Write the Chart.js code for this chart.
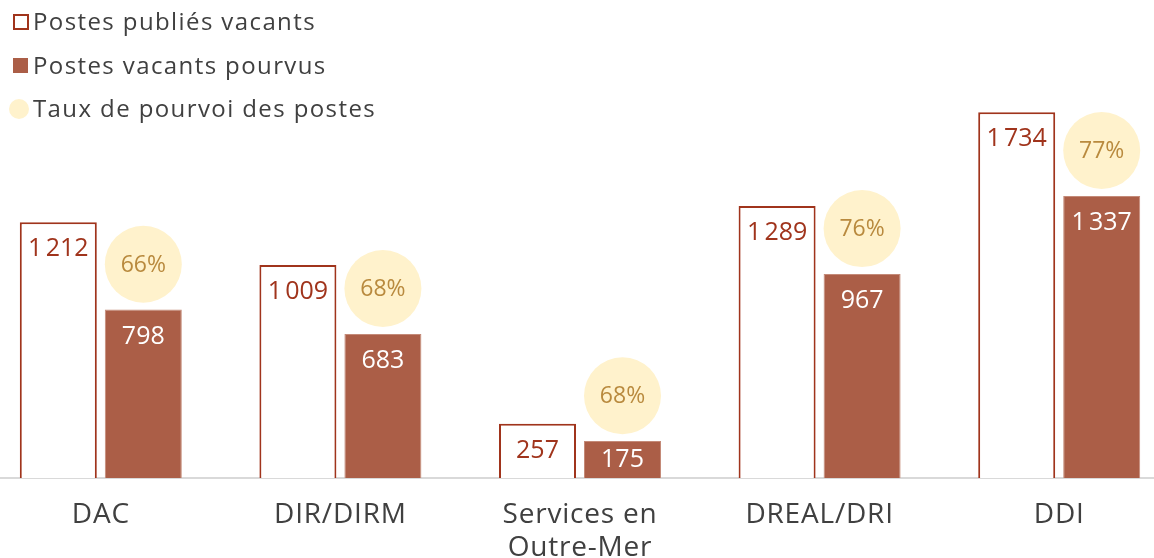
<!DOCTYPE html>
<html lang="fr">
<head>
<meta charset="utf-8">
<title>Postes vacants</title>
<script src="https://cdn.jsdelivr.net/npm/chart.js@4"></script>
<style>
  html, body { margin: 0; padding: 0; background: #fff; overflow: hidden; }
  body { width: 1154px; height: 558px; position: relative; font-family: "Open Sans", sans-serif; color: #404040; }
  #wrap { position: absolute; left: -19px; top: 0; width: 1198px; height: 558px; }
  .leg { position: absolute; left: 33px; font-size: 24px; line-height: 1; letter-spacing: 1.4px; white-space: nowrap; }
  .mk { position: absolute; box-sizing: border-box; }
</style>
</head>
<body>
<div id="wrap"><canvas id="chart"></canvas></div>

<div class="mk" style="left:13px;top:14px;width:16px;height:16px;border:2px solid #A0341C;"></div>
<div class="leg" style="top:9px;">Postes publiés vacants</div>
<div class="mk" style="left:13px;top:58px;width:15px;height:15px;background:#AB5E47;"></div>
<div class="leg" style="top:53px;">Postes vacants pourvus</div>
<div class="mk" style="left:9px;top:99px;width:20px;height:20px;border-radius:50%;background:#FFF2CC;"></div>
<div class="leg" style="top:96px;">Taux de pourvoi des postes</div>

<script>
const categories = ["DAC", "DIR/DIRM", ["Services en", "Outre-Mer"], "DREAL/DRI", "DDI"];
const postesPublies = [1212, 1009, 257, 1289, 1734];
const postesPourvus = [798, 683, 175, 967, 1337];
const tauxPourvoi = [66, 68, 68, 76, 77];

// the rate bubbles sit above the "pourvus" bar of each group
const bubbleLift = 215;
const bubbleShift = 0.1774;

function fmt(n) {
  return String(n).replace(/\B(?=(\d{3})+(?!\d))/g, "\u202F");
}

const labelPlugin = {
  id: "valueLabels",
  beforeDraw(chart) {
    chart.ctx.letterSpacing = "0.8px";
  },
  afterDatasetsDraw(chart) {
    const ctx = chart.ctx;
    ctx.save();
    ctx.letterSpacing = "0px";
    ctx.textAlign = "center";
    ctx.textBaseline = "middle";
    ctx.font = "25px 'Open Sans'";
    [0, 1].forEach((d) => {
      chart.getDatasetMeta(d).data.forEach((bar, i) => {
        const v = chart.data.datasets[d].data[i];
        const y = Math.min(bar.y + 27, (bar.y + bar.base) / 2);
        ctx.fillStyle = d === 0 ? "#A0341C" : "#ffffff";
        ctx.fillText(fmt(v), bar.x, y);
      });
    });
    ctx.font = "23px 'Open Sans'";
    ctx.fillStyle = "#B98A3E";
    chart.getDatasetMeta(2).data.forEach((pt, i) => {
      ctx.fillText(tauxPourvoi[i] + "%", pt.x, pt.y + 1);
    });
    ctx.restore();
  },
};

const ctx = document.getElementById("chart").getContext("2d");
const chart = new Chart(ctx, {
  type: "bar",
  data: {
    labels: categories,
    datasets: [
      {
        label: "Postes publiés vacants",
        data: postesPublies,
        backgroundColor: "#ffffff",
        borderColor: "#A0341C",
        borderWidth: 2,
        borderSkipped: "bottom",
        categoryPercentage: 0.7095,
        barPercentage: 0.906,
        order: 2,
      },
      {
        label: "Postes vacants pourvus",
        data: postesPourvus,
        backgroundColor: "#AB5E47",
        borderColor: "#C48A78",
        borderWidth: 1,
        borderSkipped: "bottom",
        categoryPercentage: 0.7095,
        barPercentage: 0.906,
        order: 2,
      },
      {
        type: "scatter",
        label: "Taux de pourvoi des postes",
        parsing: false,
        data: postesPourvus.map((v, i) => ({ x: i + bubbleShift, y: v + bubbleLift })),
        backgroundColor: "#FFF2CC",
        borderWidth: 0,
        pointRadius: 38.5,
        pointHoverRadius: 38.5,
        order: 1,
      },
    ],
  },
  options: {
    responsive: true,
    maintainAspectRatio: false,
    devicePixelRatio: 1,
    animation: false,
    events: [],
    layout: { autoPadding: false, padding: { top: 56, left: 0, right: 0, bottom: 0 } },
    plugins: {
      legend: { display: false },
      tooltip: { enabled: false },
    },
    scales: {
      x: {
        type: "category",
        offset: true,
        grid: { display: false, drawTicks: false },
        border: { display: true, color: "#d9d9d9", width: 2 },
        ticks: {
          color: "#404040",
          font: { family: "'Open Sans'", size: 28, lineHeight: 1.2 },
          padding: 20,
          maxRotation: 0,
          autoSkip: false,
        },
        afterFit(scale) {
          scale.height = 80;
        },
      },
      y: {
        display: false,
        min: 0,
        max: 2000,
      },
    },
  },
  plugins: [labelPlugin],
});
</script>
</body>
</html>
